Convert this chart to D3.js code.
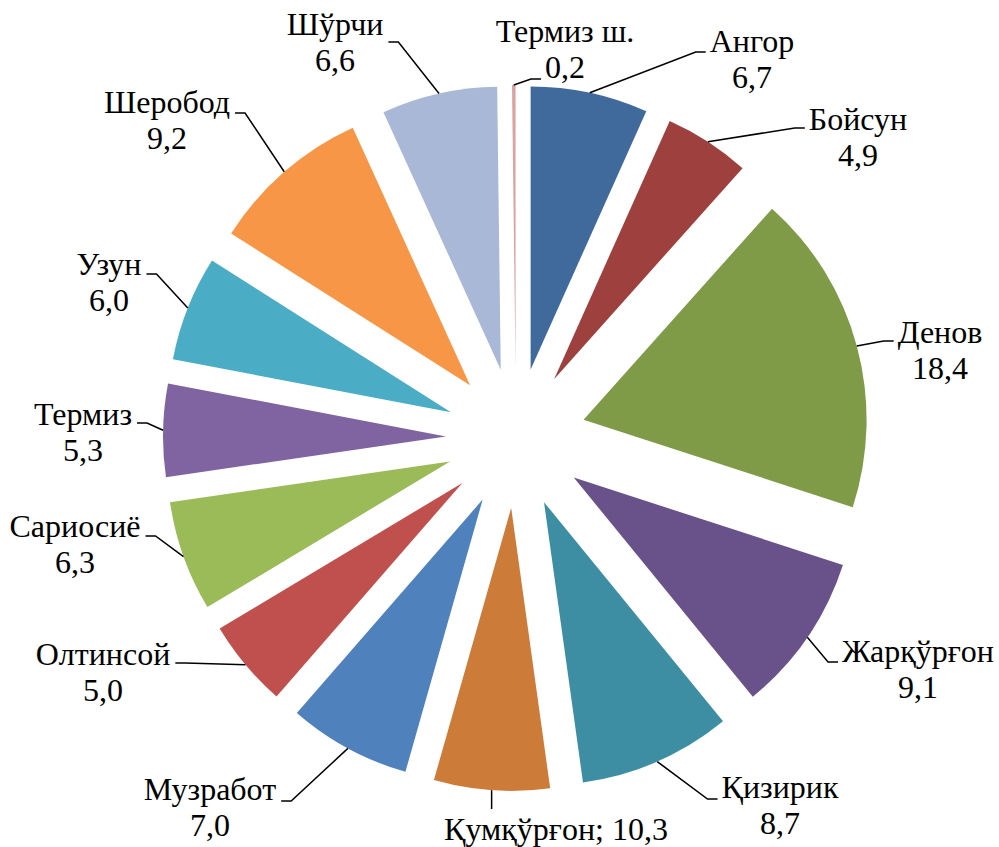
<!DOCTYPE html>
<html>
<head>
<meta charset="utf-8">
<script src="https://cdn.jsdelivr.net/npm/d3@7"></script>
<style>
  body { margin: 0; background: #fff; }
  svg { display: block; }
</style>
</head>
<body>
<svg id="chart"></svg>
<script>
// data
var categories = ["Ангор", "Бойсун", "Денов", "Жарқўрғон", "Қизирик", "Қумқўрғон", "Музработ",
  "Олтинсой", "Сариосиё", "Термиз", "Узун", "Шеробод", "Шўрчи", "Термиз ш."];
// plotted shares (the Қумқўрғон slice is drawn smaller than its label says)
var values = [6.7, 4.9, 18.4, 9.1, 8.7, 6.6, 7.0, 5.0, 6.3, 5.3, 6.0, 9.2, 6.6, 0.2];
// numbers written in the labels
var labelValues = ["6,7", "4,9", "18,4", "9,1", "8,7", "10,3", "7,0", "5,0", "6,3", "5,3", "6,0", "9,2", "6,6", "0,2"];
var colors = ["#40699c", "#9e413e", "#7f9b48", "#69518a", "#3d8da3", "#cc7b38", "#4f81bd",
  "#c0504d", "#9bbb59", "#8064a2", "#4bacc6", "#f79646", "#a9b8d6", "#d9a3a2"];

// label placement: text centre x, first baseline y, leader dock dy
var labelLayout = [
  {x: 752, y: 52, dy: 0},
  {x: 858, y: 130, dy: -2},
  {x: 940, y: 343, dy: -2},
  {x: 918, y: 662, dy: 0},
  {x: 780, y: 798, dy: 1},
  {x: 556, y: 840, dy: 0, inline: true},
  {x: 210, y: 800, dy: 1},
  {x: 103, y: 665, dy: -2},
  {x: 75, y: 537, dy: -1},
  {x: 83, y: 425, dy: -2},
  {x: 109, y: 275, dy: -1},
  {x: 167, y: 113, dy: 0},
  {x: 335, y: 35, dy: 7},
  {x: 565, y: 42, dy: 37, line: 1}
];

var W = 999, H = 847;
var cx = 516, cy = 438, r = 283, explode = 70, lineH = 36;
var font = "'Liberation Serif', 'Times New Roman', serif";

var svg = d3.select("#chart").attr("width", W).attr("height", H);

var color = d3.scaleOrdinal().domain(categories).range(colors);

var pie = d3.pie().sort(null).value(function(d) { return d.value; });
var arcs = pie(categories.map(function(c, i) { return {name: c, value: values[i], label: labelValues[i]}; }));

var arc = d3.arc().innerRadius(0).outerRadius(r);

function offset(d) {
  var m = (d.startAngle + d.endAngle) / 2;
  return [explode * Math.sin(m), -explode * Math.cos(m)];
}

var g = svg.append("g").attr("transform", "translate(" + cx + "," + cy + ")");

g.selectAll(".slice")
  .data(arcs)
  .join("path")
  .attr("class", "slice")
  .attr("transform", function(d) { var o = offset(d); return "translate(" + o[0] + "," + o[1] + ")"; })
  .attr("d", arc)
  .style("fill", function(d) { return color(d.data.name); });

// labels + leader lines
var labels = svg.append("g");
arcs.forEach(function(d, i) {
  var L = labelLayout[i];
  var o = offset(d);
  var a = (d.startAngle + d.endAngle) / 2;
  var px = cx + o[0] + r * Math.sin(a), py = cy + o[1] - r * Math.cos(a);

  var lines = L.inline ? [d.data.name + "; " + d.data.label] : [d.data.name, d.data.label];
  var texts = lines.map(function(t, k) {
    return labels.append("text")
      .attr("x", L.x).attr("y", L.y + k * lineH)
      .attr("text-anchor", "middle")
      .style("font-family", font)
      .style("font-size", "32px")
      .style("fill", "#000")
      .text(t);
  });

  var path;
  if (L.inline) {
    path = "M" + px + "," + py + "L" + px + "," + (L.y - 31);
  } else {
    var t = texts[L.line || 0];
    var w = t.node().getComputedTextLength();
    var dockY = L.y + L.dy;
    var dockX, elbowX;
    if (L.x > px) { dockX = L.x - w / 2 - 4; elbowX = dockX - 10; }
    else { dockX = L.x + w / 2 + 5; elbowX = dockX + 10; }
    path = "M" + px + "," + py + "L" + elbowX + "," + dockY + "L" + dockX + "," + dockY;
  }
  labels.append("path").attr("d", path)
    .style("fill", "none").style("stroke", "#000").style("stroke-width", 1.5);
});
</script>
</body>
</html>
